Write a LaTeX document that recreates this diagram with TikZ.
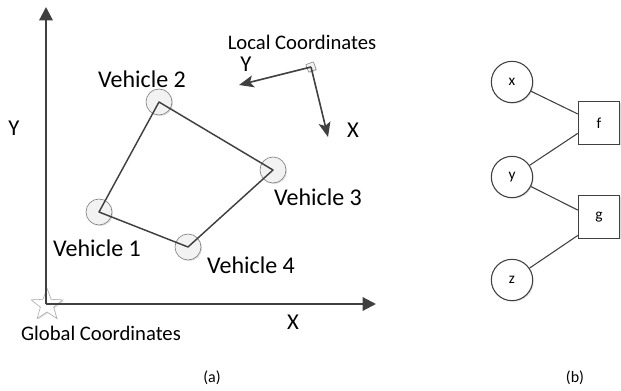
\documentclass[tikz,border=0pt]{standalone}
\usepackage{fontspec}
\setmainfont{Carlito}
\usetikzlibrary{arrows.meta,shapes.geometric,shadows}
\definecolor{axisgray}{RGB}{64,64,64}
\definecolor{vehfill}{RGB}{242,242,242}

\begin{document}
\begin{tikzpicture}[
  x=0.75pt, y=-0.75pt,
  axis/.style={draw=axisgray, line width=1.6pt, -{Triangle[length=10pt,width=10pt]}},
  localaxis/.style={draw=axisgray, line width=1.2pt, -{Stealth[length=11pt,width=9pt,inset=2.5pt]}},
  softshadow/.style={drop shadow={shadow xshift=0.8pt, shadow yshift=-0.8pt, opacity=0.25}},
  vehicle/.style={circle, draw=gray, line width=0.5pt, fill=vehfill, minimum size=19.5pt, inner sep=0pt, softshadow},
  vlabel/.style={font=\fontsize{18}{21}\selectfont, inner sep=0pt},
  axlabel/.style={font=\fontsize{17}{20}\selectfont, inner sep=0pt},
  frlabel/.style={font=\fontsize{15.5}{18}\selectfont, inner sep=0pt},
  caption/.style={font=\fontsize{12}{14}\selectfont, inner sep=0pt},
  varnode/.style={circle, draw=axisgray, line width=0.8pt, fill=white, minimum size=31pt, inner sep=0pt, font=\fontsize{11.5}{13}\selectfont, softshadow},
  factornode/.style={rectangle, draw=axisgray, line width=0.8pt, fill=white, minimum width=31pt, minimum height=32pt, inner sep=0pt, font=\fontsize{11.5}{13}\selectfont, softshadow},
  link/.style={draw=axisgray, line width=0.8pt},
]
\useasboundingbox (0,0) rectangle (621,391);

% (a) global frame
\node[star, star points=5, star point ratio=2.4, minimum size=25pt, inner sep=0pt,
  draw=gray!70, fill=white, softshadow] (origin) at (47,305) {};
\coordinate (O) at (46,304);
\coordinate (ytip) at (46,7);
\coordinate (xtip) at (376,304);
\draw[axis] (O) -- (ytip);
\draw[axis] (O) -- (xtip);
\node[axlabel] (ylab) at (14,128) {Y};
\node[axlabel] (xlab) at (293,322) {X};
\node[frlabel] (glab) at (101,333) {Global Coordinates};

% vehicles
\node[vehicle] (v1) at (99,212) {};
\node[vehicle] (v2) at (159,102) {};
\node[vehicle] (v3) at (273,170) {};
\node[vehicle] (v4) at (188,247) {};
\draw[axisgray, line width=1.1pt, line join=round]
  (v1.center) -- (v2.center) -- (v3.center) -- (v4.center) -- cycle;
\node[vlabel] (l1) at (97,248) {Vehicle 1};
\node[vlabel] (l2) at (142,79) {Vehicle 2};
\node[vlabel] (l3) at (318,197) {Vehicle 3};
\node[vlabel] (l4) at (251,265) {Vehicle 4};

% local frame
\node[rectangle, rotate=20, draw=gray, fill=vehfill, minimum size=6pt, inner sep=0pt, softshadow] (lo) at (311,67) {};
\coordinate (lytip) at (239,85);
\coordinate (lxtip) at (328,137);
\draw[localaxis] (lo.center) -- (lytip);
\draw[localaxis] (lo.center) -- (lxtip);
\node[axlabel] (lylab) at (246,64) {Y};
\node[axlabel] (lxlab) at (353,130) {X};
\node[frlabel] (llab) at (302,42) {Local Coordinates};

\node[caption] (capa) at (212,378) {(a)};

% (b) factor graph
\node[varnode] (x) at (512,82) {x};
\node[varnode] (y) at (512,177) {y};
\node[varnode] (z) at (512,280) {z};
\node[factornode] (f) at (599,123) {f};
\node[factornode] (g) at (599,217) {g};
\draw[link] (x) -- (f.157);
\draw[link] (y) -- (f.206);
\draw[link] (y) -- (g.162);
\draw[link] (z) -- (g.221);

\node[caption] (capb) at (575,378) {(b)};
\end{tikzpicture}
\end{document}
